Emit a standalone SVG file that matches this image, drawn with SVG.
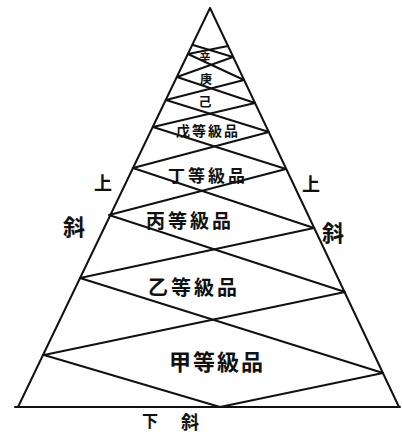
<svg xmlns="http://www.w3.org/2000/svg" width="402" height="438" viewBox="0 0 402 438">
<style>
.ln{fill:none;stroke:#111;stroke-width:2;stroke-linejoin:round;stroke-linecap:round}
.t{font-family:"Noto Sans CJK JP","Noto Sans CJK SC",sans-serif;fill:#111;text-anchor:middle;dominant-baseline:central;font-weight:bold}
</style>
<rect width="402" height="438" fill="#fff"/>
<g id="connectors">
<path class="ln" d="M210,8 L18,407 M210,8 L399,407 M15,407 L400,407"/>
<polyline class="ln" points="220,407 383,373 80,278 314,228 133,168 269,132 166,100 244,80 188,54 228,46"/>
<polyline class="ln" points="220,407 44,355 345,292 109,215 286,169 153,127 255,103 177,77 233,57 193,45"/>
</g>
<g id="n-jia"><text class="t" x="217" y="360" font-size="22" letter-spacing="2">甲等級品</text></g>
<g id="n-yi"><text class="t" x="194" y="286" font-size="20" letter-spacing="3">乙等級品</text></g>
<g id="n-bing"><text class="t" x="190" y="219" font-size="19" letter-spacing="3">丙等級品</text></g>
<g id="n-ding"><text class="t" x="208" y="174" font-size="17" letter-spacing="3">丁等級品</text></g>
<g id="n-wu"><text class="t" x="208" y="130" font-size="14" letter-spacing="2">戊等級品</text></g>
<g id="n-ji"><text class="t" x="205" y="100" font-size="13">己</text></g>
<g id="n-geng"><text class="t" x="206" y="78" font-size="12">庚</text></g>
<g id="n-xin"><text class="t" x="205" y="57" font-size="11">辛</text></g>
<g id="lbl-left"><text class="t" x="103" y="182" font-size="18">上</text><text class="t" x="74" y="225" font-size="22">斜</text></g>
<g id="lbl-right"><text class="t" x="311" y="183" font-size="18">上</text><text class="t" x="333" y="231" font-size="22">斜</text></g>
<g id="lbl-bottom"><text class="t" x="150" y="420" font-size="16">下</text><text class="t" x="190" y="421" font-size="18">斜</text></g>
</svg>
